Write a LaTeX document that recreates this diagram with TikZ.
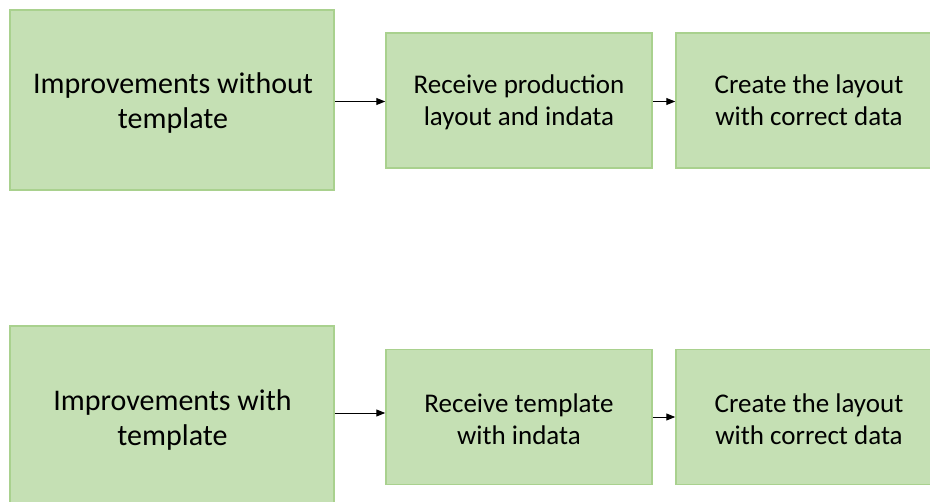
\documentclass[tikz,border=0pt]{standalone}
\usepackage{fontspec}
\setmainfont{Carlito}
\usetikzlibrary{arrows.meta}
\definecolor{boxfill}{HTML}{C5E0B4}
\definecolor{boxline}{HTML}{A9D18E}
\begin{document}
\begin{tikzpicture}[x=1bp,y=-1bp,
  stepbox/.style={draw=boxline, fill=boxfill, line width=1.5bp, inner sep=0pt},
  bigbox/.style={stepbox, minimum width=324bp, minimum height=180bp},
  smallbox/.style={stepbox, minimum width=266bp, minimum height=135bp},
  bigtext/.style={anchor=base, align=center, inner sep=0pt, text=black,
    font=\fontsize{30bp}{35bp}\selectfont},
  smalltext/.style={anchor=base, align=center, inner sep=0pt, text=black,
    font=\fontsize{27bp}{32bp}\selectfont},
  arr/.style={draw=black, line width=1bp, -{Triangle[length=9bp,width=7bp]}}]
\useasboundingbox (0,0) rectangle (930,502);
\begin{scope}
\clip (0,0) rectangle (930,502);
% upper process: without template
\node[bigbox]   (A1) at (172,100)   {};
\node[smallbox] (A2) at (519,100.5) {};
\node[smallbox] (A3) at (809,100.5) {};
% lower process: with template
\node[bigbox]   (B1) at (172,416)   {};
\node[smallbox] (B2) at (519,417)   {};
\node[smallbox] (B3) at (809,417)   {};
\end{scope}
% box captions, placed on the baseline of their last line
\node[bigtext]   (A1t) at (173,128.5)   {Improvements without\\template};
\node[smalltext] (A2t) at (519,125.7)   {Receive production\\layout and indata};
\node[smalltext] (A3t) at (809,125.7)   {Create the layout\\with correct data};
\node[bigtext]   (B1t) at (172.5,445.7) {Improvements with\\template};
\node[smalltext] (B2t) at (519,444.2)   {Receive template\\with indata};
\node[smalltext] (B3t) at (809,444.2)   {Create the layout\\with correct data};
% connectors
\draw[arr] ([yshift=-1.5bp]A1.east) -- ([yshift=-1.5bp]A1.east -| A2.west);
\draw[arr] ([yshift=-1bp]A2.east) -- ([yshift=-1bp]A2.east -| A3.west);
\draw[arr] ([yshift=3bp]B1.east) -- ([yshift=3bp]B1.east -| B2.west);
\draw[arr] (B2.east) -- (B2.east -| B3.west);
\end{tikzpicture}
\end{document}
